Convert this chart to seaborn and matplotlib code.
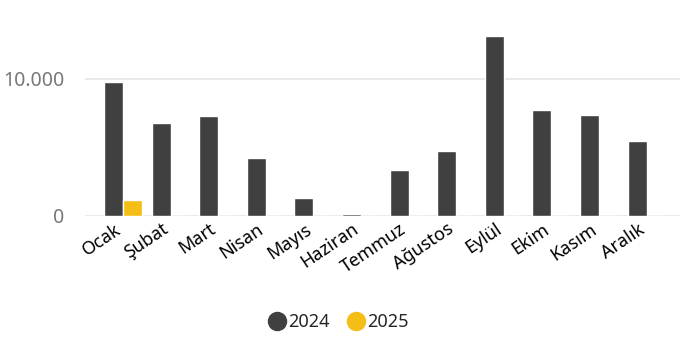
import numpy as np
import pandas as pd
import matplotlib
matplotlib.use("Agg")
import matplotlib.pyplot as plt
from matplotlib.lines import Line2D
from matplotlib.transforms import ScaledTranslation
import seaborn as sns

months = ["Ocak", "Şubat", "Mart", "Nisan", "Mayıs", "Haziran",
          "Temmuz", "Ağustos", "Eylül", "Ekim", "Kasım", "Aralık"]
values_2024 = [9760, 6810, 7300, 4260, 1290, 170, 3380, 4770, 13140, 7760, 7350, 5500]
values_2025 = [1170, 0, 0, 0, 0, 0, 0, 0, 0, 0, 0, 0]
years = ["2024", "2025"]
colors = {"2024": "#404040", "2025": "#F5BE16"}

df = pd.DataFrame({
    "ay": months * 2,
    "yil": [years[0]] * len(months) + [years[1]] * len(months),
    "deger": values_2024 + values_2025,
})

sns.set_style("white")
plt.rcParams["font.family"] = ["Noto Sans", "DejaVu Sans"]

fig = plt.figure(figsize=(6.8, 3.38), dpi=100)
ax = fig.add_axes([0.125, 0.361, 0.875, 0.58])

sns.barplot(data=df, x="ay", y="deger", hue="yil", order=months, hue_order=years,
            palette=colors, width=0.8, gap=0, saturation=1, ax=ax, legend=False)

ax.set_xlim(-0.8, 11.7)
ax.set_ylim(0, 14300)
ax.set_yticks([0, 10000])
ax.set_yticklabels(["0", "10.000"], color="#777777", fontsize=14)
ax.yaxis.grid(True, color="#e6e6e6", linewidth=1.2)
ax.set_axisbelow(True)
ax.tick_params(axis="y", length=0, pad=15)
ax.tick_params(axis="x", length=0, pad=3)
ax.set_xticks(range(len(months)))
ax.set_xticklabels(months, rotation=34, ha="right", va="top",
                   rotation_mode="anchor", fontsize=13, color="black")
# shift the rotated labels a little to the left, like the original
shift = ScaledTranslation(-0.09, 0, fig.dpi_scale_trans)
for lbl in ax.get_xticklabels():
    lbl.set_transform(lbl.get_transform() + shift)
ax.set_xlabel("")
ax.set_ylabel("")
for s in ax.spines.values():
    s.set_visible(False)

handles = [Line2D([], [], marker="o", linestyle="", markersize=13,
                  markerfacecolor=colors[y], markeredgecolor=colors[y]) for y in years]
fig.legend(handles, years, loc="center", bbox_to_anchor=(0.496, 0.047), ncol=2,
           frameon=False, fontsize=13, handletextpad=0.0, columnspacing=0.9,
           handlelength=1.2)

fig.savefig("out.png", dpi=100)
